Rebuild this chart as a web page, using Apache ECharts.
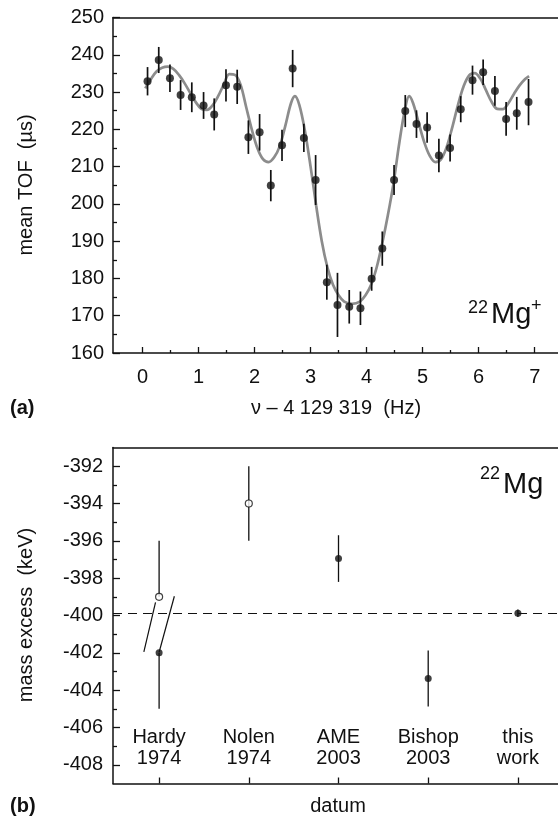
<!DOCTYPE html>
<html><head><meta charset="utf-8">
<script src="https://cdn.jsdelivr.net/npm/echarts@6/dist/echarts.min.js"></script>
<style>html,body{margin:0;padding:0;background:#fff}#c{width:558px;height:817px}</style>
</head><body><div id="c"></div>
<script>
// ---- panel (a): mean TOF vs frequency ----
const tofX = [0.09,0.29,0.49,0.68,0.88,1.09,1.28,1.49,1.69,1.89,2.09,2.29,2.49,2.68,2.88,3.09,3.29,3.48,3.69,3.89,4.09,4.28,4.49,4.69,4.89,5.08,5.29,5.49,5.68,5.89,6.08,6.29,6.49,6.68,6.89];
const tofY = [232.9,238.6,233.7,229.2,228.6,226.4,224.0,231.8,231.4,217.9,219.2,204.9,215.7,236.3,217.7,206.4,179.0,172.9,172.4,172.0,179.9,188.0,206.4,224.9,221.4,220.5,213.0,215.0,225.4,233.2,235.3,230.3,222.8,224.3,227.3];
const tofErr = [3.8,3.5,3.7,4.0,4.0,3.6,4.3,4.3,4.6,4.5,4.9,4.2,4.2,5.0,3.8,6.7,4.7,8.6,4.5,4.5,3.2,4.6,4.0,4.3,3.7,4.1,4.5,3.6,3.5,3.9,3.4,4.0,4.5,4.4,6.2];
const fitX = [0.05,0.15,0.25,0.35,0.45,0.55,0.65,0.75,0.85,0.95,1.05,1.15,1.25,1.35,1.45,1.55,1.65,1.75,1.85,1.95,2.05,2.15,2.25,2.35,2.45,2.55,2.65,2.72,2.80,2.90,3.00,3.10,3.20,3.30,3.40,3.50,3.60,3.74,3.88,3.98,4.08,4.18,4.28,4.38,4.48,4.58,4.68,4.76,4.83,4.93,5.03,5.13,5.23,5.33,5.43,5.53,5.63,5.73,5.83,5.93,6.03,6.13,6.23,6.33,6.43,6.53,6.63,6.73,6.83,6.90];
const fitY = [231.0,233.5,235.5,236.5,236.8,236.2,234.6,232.4,229.8,227.3,225.5,225.2,226.4,228.9,232.0,234.8,234.6,232.0,226.0,220.0,215.0,212.0,211.2,212.5,215.5,221.0,227.0,228.9,226.5,219.5,210.0,199.5,190.0,183.0,178.3,175.5,173.8,173.2,173.8,175.5,178.3,183.0,189.5,197.0,205.5,216.0,225.0,228.9,227.0,221.7,216.5,212.8,211.2,212.0,215.3,220.6,226.5,231.5,234.5,235.1,233.6,230.5,227.4,225.5,225.4,227.0,229.5,231.8,233.5,234.3];
const topXTicks = [0,1,2,3,4,5,6,7];
const topXMinor = [0.5,1.5,2.5,3.5,4.5,5.5,6.5];

// ---- panel (b): mass excess per datum ----
const datumNames = ['Hardy\n1974','Nolen\n1974','AME\n2003','Bishop\n2003','this\nwork'];
const datumPos = [0,1,2,3,4];
const massYTicks = [-408,-406,-404,-402,-400,-398,-396,-394,-392];
const massYMinor = [-407,-405,-403,-401,-399,-397,-395,-393];
const openPos = [0,1];
const openVal = [-399,-394];
const openBarTop = [-396,-392];
const openBarBottom = [-399,-396];
const fillPos = [0,2,3,4];
const fillVal = [-402,-396.95,-403.37,-399.88];
const fillBarTop = [-402,-395.7,-401.88,-399.68];
const fillBarBottom = [-405,-398.2,-404.87,-400.08];
const refValue = -399.9;
const breakA = [[-0.17,-401.95],[-0.04,-399.3]];
const breakB = [[0,-401.97],[0.17,-398.97]];

const FONT = '"Liberation Sans", Arial, Helvetica, sans-serif';
const INK = '#111';

function errRender(width){
  return function(params, api){
    const a = api.coord([api.value(0), api.value(1)]);
    const b = api.coord([api.value(0), api.value(2)]);
    return {type:'line', shape:{x1:a[0],y1:a[1],x2:b[0],y2:b[1]}, style:{stroke:INK, lineWidth:width}};
  };
}

const chart = echarts.init(document.getElementById('c'), null, {renderer:'canvas'});
const axisLineStyle = {color:INK, width:1.5};
const option = {
  animation:false,
  backgroundColor:'#fff',
  textStyle:{fontFamily:FONT},
  grid:[
    {left:113, top:17.5, width:445, height:335.5},
    {left:113, top:447.5, width:445, height:336}
  ],
  xAxis:[
    {gridIndex:0, type:'value', min:-0.5265, max:7.416, position:'bottom',
     axisLine:{show:true, onZero:false, lineStyle:axisLineStyle}, splitLine:{show:false},
     axisTick:{show:true, inside:true, length:6, lineStyle:{color:INK,width:1.3}, customValues:topXTicks},
     axisLabel:{show:true, customValues:topXTicks, margin:14, fontSize:20, lineHeight:20, color:INK, fontFamily:FONT}},
    {gridIndex:0, type:'value', min:-0.5265, max:7.416, position:'top',
     axisLine:{show:true, onZero:false, lineStyle:axisLineStyle}, axisTick:{show:false}, axisLabel:{show:false}, splitLine:{show:false}},
    {gridIndex:0, type:'value', min:-0.5265, max:7.416, position:'bottom',
     axisLine:{show:false, onZero:false}, splitLine:{show:false}, axisLabel:{show:false},
     axisTick:{show:true, inside:true, length:3, lineStyle:{color:INK,width:1.3}, customValues:topXMinor}},
    {gridIndex:1, type:'value', min:-0.514, max:4.447, position:'bottom',
     axisLine:{show:true, onZero:false, lineStyle:axisLineStyle}, splitLine:{show:false},
     axisTick:{show:true, inside:true, length:6, lineStyle:{color:INK,width:1.3}, customValues:datumPos},
     axisLabel:{show:true, inside:true, customValues:datumPos, margin:15, fontSize:20, lineHeight:21, color:INK, fontFamily:FONT,
       formatter:function(v){ return datumNames[Math.round(v)]; }}},
    {gridIndex:1, type:'value', min:-0.514, max:4.447, position:'top',
     axisLine:{show:true, onZero:false, lineStyle:axisLineStyle}, axisTick:{show:false}, axisLabel:{show:false}, splitLine:{show:false}}
  ],
  yAxis:[
    {gridIndex:0, type:'value', min:160, max:250, interval:10, position:'left',
     axisLine:{show:true, onZero:false, lineStyle:axisLineStyle}, splitLine:{show:false},
     axisTick:{show:true, inside:true, length:7, lineStyle:{color:INK,width:1.3}},
     minorTick:{show:true, splitNumber:2, length:4, lineStyle:{color:INK,width:1.3}},
     axisLabel:{margin:9, fontSize:20, color:INK, fontFamily:FONT}},
    {gridIndex:1, type:'value', min:-409, max:-391, position:'left',
     axisLine:{show:true, onZero:false, lineStyle:axisLineStyle}, splitLine:{show:false},
     axisTick:{show:true, inside:true, length:7, lineStyle:{color:INK,width:1.3}, customValues:massYTicks},
     axisLabel:{margin:10, fontSize:20, color:INK, fontFamily:FONT, customValues:massYTicks}},
    {gridIndex:1, type:'value', min:-409, max:-391, position:'left',
     axisLine:{show:false, onZero:false}, splitLine:{show:false}, axisLabel:{show:false},
     axisTick:{show:true, inside:true, length:4, lineStyle:{color:INK,width:1.3}, customValues:massYMinor}}
  ],
  series:[
    {type:'line', xAxisIndex:0, yAxisIndex:0, data:fitX.map((x,i)=>[x,fitY[i]]), smooth:0.35,
     showSymbol:false, symbol:'none', lineStyle:{color:'#8c8c8c', width:2.7}, z:2},
    {type:'custom', xAxisIndex:0, yAxisIndex:0, renderItem:errRender(1.7),
     data:tofX.map((x,i)=>[x, tofY[i]+tofErr[i], tofY[i]-tofErr[i]]), z:3},
    {type:'scatter', xAxisIndex:0, yAxisIndex:0, data:tofX.map((x,i)=>[x,tofY[i]]),
     symbol:'circle', symbolSize:8, itemStyle:{color:INK}, z:4},

    {type:'line', xAxisIndex:3, yAxisIndex:1, data:breakA, showSymbol:false, symbol:'none',
     lineStyle:{color:INK, width:1.2}, z:2},
    {type:'line', xAxisIndex:3, yAxisIndex:1, data:breakB, showSymbol:false, symbol:'none',
     lineStyle:{color:INK, width:1.2}, z:2,
     markLine:{silent:true, symbol:'none', label:{show:false},
       lineStyle:{color:INK, width:1.2, type:[9,6]}, data:[{yAxis:refValue}]}},
    {type:'custom', xAxisIndex:3, yAxisIndex:1, renderItem:errRender(1.3),
     data:openPos.map((p,i)=>[p, openBarTop[i], openBarBottom[i]]), z:3},
    {type:'custom', xAxisIndex:3, yAxisIndex:1, renderItem:errRender(1.3),
     data:fillPos.map((p,i)=>[p, fillBarTop[i], fillBarBottom[i]]), z:3},
    {type:'scatter', xAxisIndex:3, yAxisIndex:1, data:openPos.map((p,i)=>[p,openVal[i]]),
     symbol:'circle', symbolSize:7, itemStyle:{color:'#fff', borderColor:INK, borderWidth:1.2}, z:5},
    {type:'scatter', xAxisIndex:3, yAxisIndex:1, data:fillPos.map((p,i)=>[p,fillVal[i]]),
     symbol:'circle', symbolSize:7, itemStyle:{color:INK}, z:5}
  ],
  graphic:[
    {type:'text', x:26.5, y:185, rotation:Math.PI/2, style:{text:'mean TOF  (µs)', font:'20px '+FONT, fill:INK, align:'center', verticalAlign:'middle'}},
    {type:'text', x:336, y:408, style:{text:'ν – 4 129 319  (Hz)', font:'20px '+FONT, fill:INK, align:'center', verticalAlign:'middle'}},
    {type:'text', x:10, y:408, style:{text:'(a)', font:'bold 20px '+FONT, fill:INK, align:'left', verticalAlign:'middle'}},
    {type:'text', x:468, y:308, style:{text:'22', font:'18px '+FONT, fill:INK, align:'left', verticalAlign:'middle'}},
    {type:'text', x:491, y:315, style:{text:'Mg', font:'29px '+FONT, fill:INK, align:'left', verticalAlign:'middle'}},
    {type:'text', x:531, y:306, style:{text:'+', font:'18px '+FONT, fill:INK, align:'left', verticalAlign:'middle'}},

    {type:'text', x:26, y:615, rotation:Math.PI/2, style:{text:'mass excess  (keV)', font:'20px '+FONT, fill:INK, align:'center', verticalAlign:'middle'}},
    {type:'text', x:338, y:806, style:{text:'datum', font:'20px '+FONT, fill:INK, align:'center', verticalAlign:'middle'}},
    {type:'text', x:10, y:806, style:{text:'(b)', font:'bold 20px '+FONT, fill:INK, align:'left', verticalAlign:'middle'}},
    {type:'text', x:480, y:474, style:{text:'22', font:'18px '+FONT, fill:INK, align:'left', verticalAlign:'middle'}},
    {type:'text', x:503, y:485, style:{text:'Mg', font:'29px '+FONT, fill:INK, align:'left', verticalAlign:'middle'}}
  ]
};
chart.setOption(option);
</script>
</body></html>
